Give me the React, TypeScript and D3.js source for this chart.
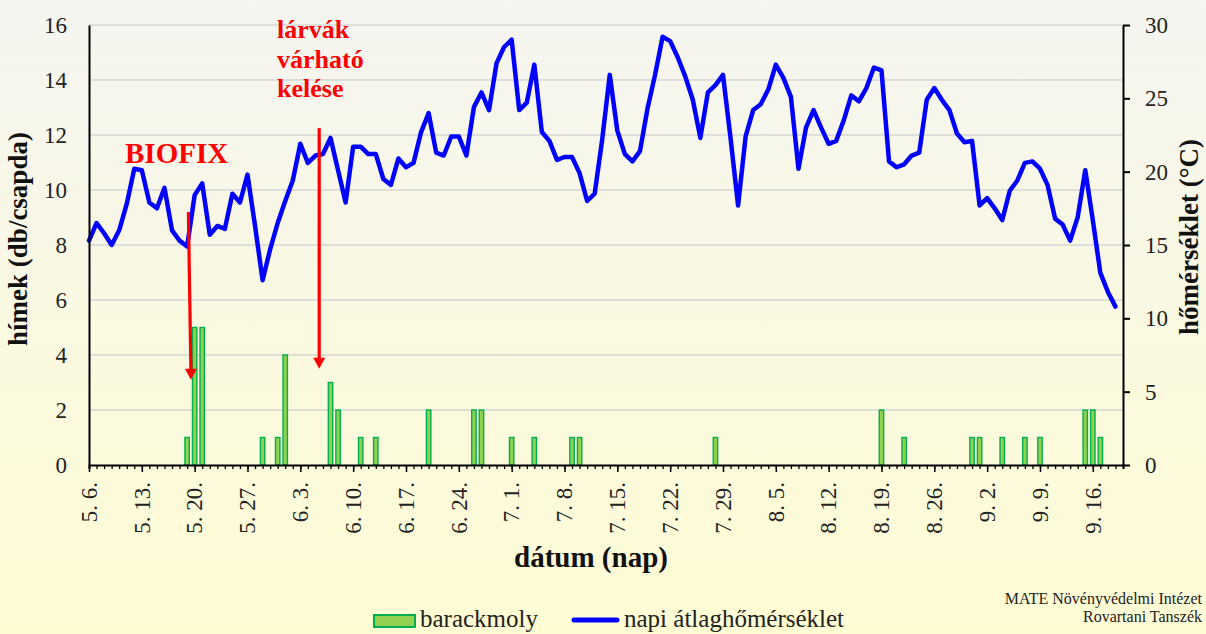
import { useEffect, useRef } from "react"
import * as d3 from "d3"

// napi átlaghőmérséklet (°C), 5.6. – 9.19., one value per day
const temperature = [
  15.3, 16.5, 15.8, 15.0, 16.0, 17.8, 20.2, 20.1, 17.9, 17.5,
  18.9, 16.0, 15.3, 14.9, 18.4, 19.2, 15.7, 16.3, 16.1, 18.5,
  17.9, 19.8, 16.3, 12.6, 14.7, 16.5, 18.0, 19.4, 21.9, 20.6,
  21.1, 21.2, 22.3, 20.1, 17.9, 21.7, 21.7, 21.2, 21.2, 19.5,
  19.1, 20.9, 20.3, 20.6, 22.7, 24.0, 21.3, 21.1, 22.4, 22.4,
  21.1, 24.4, 25.4, 24.2, 27.4, 28.5, 29.0, 24.2, 24.7, 27.3,
  22.7, 22.1, 20.8, 21.0, 21.0, 19.9, 18.0, 18.5, 22.2, 26.6,
  22.8, 21.2, 20.7, 21.4, 24.3, 26.6, 29.2, 28.9, 27.8, 26.5,
  24.9, 22.3, 25.4, 25.9, 26.6, 22.3, 17.7, 22.4, 24.2, 24.6,
  25.6, 27.3, 26.4, 25.1, 20.2, 23.0, 24.2, 23.0, 21.9, 22.1,
  23.5, 25.2, 24.8, 25.7, 27.1, 26.9, 20.7, 20.3, 20.5, 21.1,
  21.3, 24.9, 25.7, 24.9, 24.2, 22.6, 22.0, 22.1, 17.7, 18.2,
  17.5, 16.7, 18.7, 19.4, 20.6, 20.7, 20.2, 19.1, 16.8, 16.4,
  15.3, 16.9, 20.1, 16.7, 13.1, 11.8, 10.8,
]

// barackmoly fogások (hímek db/csapda)
const mothDates = [
  "5.19", "5.20", "5.21", "5.29", "5.31", "6.1", "6.7", "6.8", "6.11", "6.13",
  "6.20", "6.26", "6.27", "7.1", "7.4", "7.9", "7.10", "7.28", "8.19", "8.22",
  "8.31", "9.1", "9.4", "9.7", "9.9", "9.15", "9.16", "9.17",
]
const mothCounts = [1, 5, 5, 1, 1, 4, 3, 2, 1, 1, 2, 2, 2, 1, 1, 1, 1, 1, 2, 1, 1, 1, 1, 1, 1, 2, 2, 1]

const tickLabels = [
  "5. 6.", "5. 13.", "5. 20.", "5. 27.", "6. 3.", "6. 10.", "6. 17.", "6. 24.", "7. 1.", "7. 8.",
  "7. 15.", "7. 22.", "7. 29.", "8. 5.", "8. 12.", "8. 19.", "8. 26.", "9. 2.", "9. 9.", "9. 16.",
]

const firstDay = "5.6"
const lastAxisDay = "9.20"

const FONT = "'Liberation Serif', 'Times New Roman', serif"

const parseMD = (s: string) => {
  const [m, d] = s.split(".").map((t) => +t.trim())
  return new Date(Date.UTC(2021, m - 1, d))
}

export default function App() {
  const svgRef = useRef<SVGSVGElement>(null)

  useEffect(() => {
    if (!svgRef.current) return
    const svg = d3.select(svgRef.current)
    svg.selectAll("*").remove()

    const width = 1206
    const height = 634
    const left = 89
    const right = 1123
    const top = 25
    const bottom = 465

    // background gradient
    const grad = svg
      .append("defs")
      .append("linearGradient")
      .attr("id", "bg-gradient")
      .attr("x1", "0%")
      .attr("y1", "0%")
      .attr("x2", "0%")
      .attr("y2", "100%")
    grad.append("stop").attr("offset", "0%").attr("stop-color", "#f5f5f1")
    grad.append("stop").attr("offset", "100%").attr("stop-color", "#fefcd3")
    svg.append("rect").attr("width", width).attr("height", height).attr("fill", "url(#bg-gradient)")

    const start = parseMD(firstDay)
    const x = d3.scaleUtc().domain([start, parseMD(lastAxisDay)]).range([left, right])
    const yL = d3.scaleLinear().domain([0, 16]).range([bottom, top])
    const yR = d3.scaleLinear().domain([0, 30]).range([bottom, top])

    // gridlines
    svg
      .append("g")
      .selectAll("line")
      .data(yL.ticks(8).filter((d) => d > 0))
      .join("line")
      .attr("x1", left)
      .attr("x2", right)
      .attr("y1", (d) => yL(d))
      .attr("y2", (d) => yL(d))
      .attr("stroke", "#d6d6d6")
      .attr("stroke-width", 1.5)

    // bars
    const bars = mothDates.map((d, i) => ({ date: parseMD(d), value: mothCounts[i] }))
    svg
      .append("g")
      .selectAll("rect")
      .data(bars)
      .join("rect")
      .attr("x", (d) => x(d.date) - 2.2)
      .attr("width", 4.4)
      .attr("y", (d) => yL(d.value))
      .attr("height", (d) => bottom - yL(d.value))
      .attr("fill", "#92d050")
      .attr("stroke", "#00b050")
      .attr("stroke-width", 1.4)

    // temperature line
    const temps = temperature.map((v, i) => ({ date: d3.utcDay.offset(start, i), value: v }))
    const line = d3
      .line<{ date: Date; value: number }>()
      .x((d) => x(d.date))
      .y((d) => yR(d.value))
    svg
      .append("path")
      .datum(temps)
      .attr("fill", "none")
      .attr("stroke", "#0000ff")
      .attr("stroke-width", 4.5)
      .attr("stroke-linejoin", "round")
      .attr("stroke-linecap", "round")
      .attr("d", line)

    // bottom axis: daily minor ticks, weekly major ticks
    const days = d3.utcDay.range(start, d3.utcDay.offset(parseMD(lastAxisDay), 1))
    const weeks = tickLabels.map(parseMD)
    svg
      .append("g")
      .attr("transform", `translate(0,${bottom})`)
      .call(d3.axisBottom(x).tickValues(days).tickSize(4).tickFormat(() => ""))
      .call((g) => g.select(".domain").attr("stroke", "#000").attr("stroke-width", 2))
      .call((g) => g.selectAll(".tick line").attr("stroke", "#000").attr("stroke-width", 1.3))
    svg
      .append("g")
      .attr("transform", `translate(0,${bottom})`)
      .call(d3.axisBottom(x).tickValues(weeks).tickSize(7).tickFormat(() => ""))
      .call((g) => g.select(".domain").remove())
      .call((g) => g.selectAll(".tick line").attr("stroke", "#000").attr("stroke-width", 1.5))

    svg
      .append("g")
      .selectAll("text")
      .data(tickLabels)
      .join("text")
      .attr("transform", (d) => `translate(${x(parseMD(d))},482) rotate(-90)`)
      .attr("text-anchor", "end")
      .attr("dy", "0.34em")
      .attr("font-family", FONT)
      .attr("font-size", 23)
      .attr("fill", "#222")
      .text((d) => d)

    // left axis
    svg
      .append("g")
      .attr("transform", `translate(${left},0)`)
      .call(d3.axisLeft(yL).ticks(8).tickSize(0).tickPadding(22))
      .call((g) => g.select(".domain").attr("stroke", "#000").attr("stroke-width", 2))
      .call((g) => g.selectAll("text").attr("font-family", FONT).attr("font-size", 23).attr("fill", "#222"))

    // right axis
    svg
      .append("g")
      .attr("transform", `translate(${right},0)`)
      .call(d3.axisRight(yR).ticks(6).tickSizeInner(7).tickSizeOuter(0).tickPadding(15))
      .call((g) => g.select(".domain").attr("stroke", "#000").attr("stroke-width", 2))
      .call((g) => g.selectAll(".tick line").attr("stroke", "#000").attr("stroke-width", 2))
      .call((g) => g.selectAll("text").attr("font-family", FONT).attr("font-size", 23).attr("fill", "#222"))

    // axis titles
    svg
      .append("text")
      .attr("transform", "translate(27,239) rotate(-90)")
      .attr("text-anchor", "middle")
      .attr("font-family", FONT)
      .attr("font-weight", "bold")
      .attr("font-size", 27)
      .attr("fill", "#111")
      .text("hímek (db/csapda)")
    svg
      .append("text")
      .attr("transform", "translate(1198,237) rotate(-90)")
      .attr("text-anchor", "middle")
      .attr("font-family", FONT)
      .attr("font-weight", "bold")
      .attr("font-size", 27)
      .attr("fill", "#111")
      .text("hőmérséklet (°C)")
    svg
      .append("text")
      .attr("x", 591)
      .attr("y", 567)
      .attr("text-anchor", "middle")
      .attr("font-family", FONT)
      .attr("font-weight", "bold")
      .attr("font-size", 29)
      .attr("fill", "#111")
      .text("dátum (nap)")

    // annotations
    const arrows = [
      { from: [13.2, 9.2], to: [13.5, 3.1] },
      { from: [30.5, 12.25], to: [30.5, 3.5] },
    ]
    arrows.forEach((a) => {
      const x1 = x(d3.utcHour.offset(start, a.from[0] * 24))
      const x2 = x(d3.utcHour.offset(start, a.to[0] * 24))
      const y1 = yL(a.from[1])
      const y2 = yL(a.to[1])
      svg
        .append("line")
        .attr("x1", x1)
        .attr("y1", y1)
        .attr("x2", x2)
        .attr("y2", y2 - 10)
        .attr("stroke", "#ff0000")
        .attr("stroke-width", 3.2)
      svg
        .append("path")
        .attr("d", `M${x2 - 6},${y2 - 11} L${x2 + 6},${y2 - 11} L${x2},${y2} Z`)
        .attr("fill", "#ff0000")
    })

    svg
      .append("text")
      .attr("x", 125)
      .attr("y", 163)
      .attr("font-family", FONT)
      .attr("font-weight", "bold")
      .attr("font-size", 29)
      .attr("fill", "#ff0000")
      .text("BIOFIX")

    const larva = ["lárvák", "várható", "kelése"]
    svg
      .append("g")
      .selectAll("text")
      .data(larva)
      .join("text")
      .attr("x", 277)
      .attr("y", (_, i) => 38 + i * 29.5)
      .attr("font-family", FONT)
      .attr("font-weight", "bold")
      .attr("font-size", 26)
      .attr("fill", "#ff0000")
      .text((d) => d)

    // legend
    const legend = svg.append("g")
    legend
      .append("rect")
      .attr("x", 374)
      .attr("y", 615)
      .attr("width", 41)
      .attr("height", 12)
      .attr("fill", "#92d050")
      .attr("stroke", "#00b050")
      .attr("stroke-width", 2)
    legend
      .append("text")
      .attr("x", 420)
      .attr("y", 627)
      .attr("font-family", FONT)
      .attr("font-size", 25)
      .attr("fill", "#222")
      .text("barackmoly")
    legend
      .append("line")
      .attr("x1", 574)
      .attr("x2", 617)
      .attr("y1", 620)
      .attr("y2", 620)
      .attr("stroke", "#0000ff")
      .attr("stroke-width", 5)
      .attr("stroke-linecap", "round")
    legend
      .append("text")
      .attr("x", 624)
      .attr("y", 627)
      .attr("font-family", FONT)
      .attr("font-size", 25)
      .attr("fill", "#222")
      .text("napi átlaghőmérséklet")

    // source note
    svg
      .append("text")
      .attr("x", 1202)
      .attr("y", 604)
      .attr("text-anchor", "end")
      .attr("font-family", FONT)
      .attr("font-size", 16)
      .attr("fill", "#222")
      .text("MATE Növényvédelmi Intézet")
    svg
      .append("text")
      .attr("x", 1202)
      .attr("y", 622)
      .attr("text-anchor", "end")
      .attr("font-family", FONT)
      .attr("font-size", 16)
      .attr("fill", "#222")
      .text("Rovartani Tanszék")
  }, [])

  return (
    <svg
      ref={svgRef}
      width={1206}
      height={634}
      style={{ position: "absolute", left: 0, top: 0, display: "block" }}
    />
  )
}
